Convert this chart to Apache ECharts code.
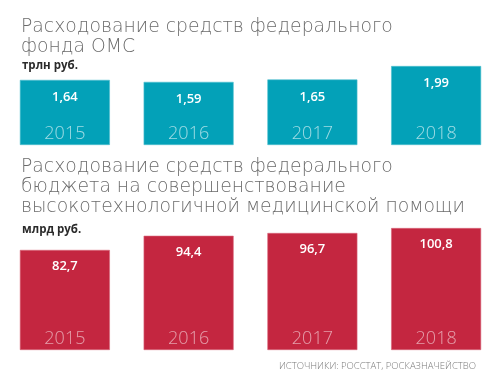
<!DOCTYPE html>
<html><head><meta charset="utf-8">
<script src="https://cdn.jsdelivr.net/npm/echarts@6/dist/echarts.min.js"></script>
<style>html,body{margin:0;padding:0;background:#fff}#c{width:498px;height:380px}</style>
</head><body><div id="c"></div>
<script>
const years = ['2015', '2016', '2017', '2018'];
const omsValues = [1.64, 1.59, 1.65, 1.99];
const hiTechValues = [82.7, 94.4, 96.7, 100.8];
const title1 = 'Расходование средств федерального\nфонда ОМС';
const unit1 = 'трлн руб.';
const title2 = 'Расходование средств федерального\nбюджета на совершенствование\nвысокотехнологичной медицинской помощи';
const unit2 = 'млрд руб.';
const source = 'ИСТОЧНИКИ: РОССТАТ, РОСКАЗНАЧЕЙСТВО';

const FONT = 'Open Sans';
const TFONT = 'DejaVu Sans';
const chart = echarts.init(document.getElementById('c'), null, {renderer: 'canvas'});
const fmt = p => String(p.value).replace('.', ',');
const fmt2 = p => p.value.toFixed(2).replace('.', ',');
chart.setOption({
  animation: false,
  textStyle: {fontFamily: FONT},
  title: [
    {text: title1, left: 16, top: 12, textStyle: {fontFamily: TFONT, fontSize: 18.8, lineHeight: 20, fontWeight: 200, color: '#6b6b6b'}},
    {text: unit1, left: 17, top: 55, textStyle: {fontFamily: FONT, fontSize: 11.5, fontWeight: 'bold', color: '#2b2b2b'}},
    {text: title2, left: 16, top: 152, textStyle: {fontFamily: TFONT, fontSize: 18.8, lineHeight: 20, fontWeight: 200, color: '#6b6b6b'}},
    {text: unit2, left: 17, top: 219, textStyle: {fontFamily: FONT, fontSize: 11.5, fontWeight: 'bold', color: '#2b2b2b'}},
    {text: source, right: 17, top: 356, textStyle: {fontFamily: FONT, fontSize: 9.5, fontWeight: 300, color: '#7a7a7a'}}
  ],
  grid: [
    {left: 3, width: 497, top: 45.75, height: 99.25},
    {left: 3, width: 497, top: 204.8, height: 145.2}
  ],
  xAxis: [
    {gridIndex: 0, type: 'category', data: years, axisLine: {show: false}, axisTick: {show: false},
     axisLabel: {inside: true, margin: 2, fontSize: 18, fontWeight: 300, fontFamily: FONT, color: 'rgba(255,255,255,0.62)'}, z: 10},
    {gridIndex: 1, type: 'category', data: years, axisLine: {show: false}, axisTick: {show: false},
     axisLabel: {inside: true, margin: 2, fontSize: 18, fontWeight: 300, fontFamily: FONT, color: 'rgba(255,255,255,0.55)'}, z: 10}
  ],
  yAxis: [
    {gridIndex: 0, type: 'value', min: 0, max: 2.5, show: false, splitLine: {show: false}},
    {gridIndex: 1, type: 'value', min: 0, max: 120, show: false, splitLine: {show: false}}
  ],
  series: [
    {type: 'bar', xAxisIndex: 0, yAxisIndex: 0, data: omsValues, barWidth: 90,
     itemStyle: {color: '#03a1b8', borderColor: '#4fc0cf', borderWidth: 0.6},
     label: {show: true, position: 'insideTop', distance: 11, formatter: fmt2, color: '#fff', fontSize: 13, fontWeight: 600, fontFamily: FONT}},
    {type: 'bar', xAxisIndex: 1, yAxisIndex: 1, data: hiTechValues, barWidth: 90,
     itemStyle: {color: '#c42640', borderColor: '#d9677a', borderWidth: 0.6},
     label: {show: true, position: 'insideTop', distance: 10, formatter: fmt, color: '#fff', fontSize: 13, fontWeight: 600, fontFamily: FONT}}
  ]
});
</script></body></html>
